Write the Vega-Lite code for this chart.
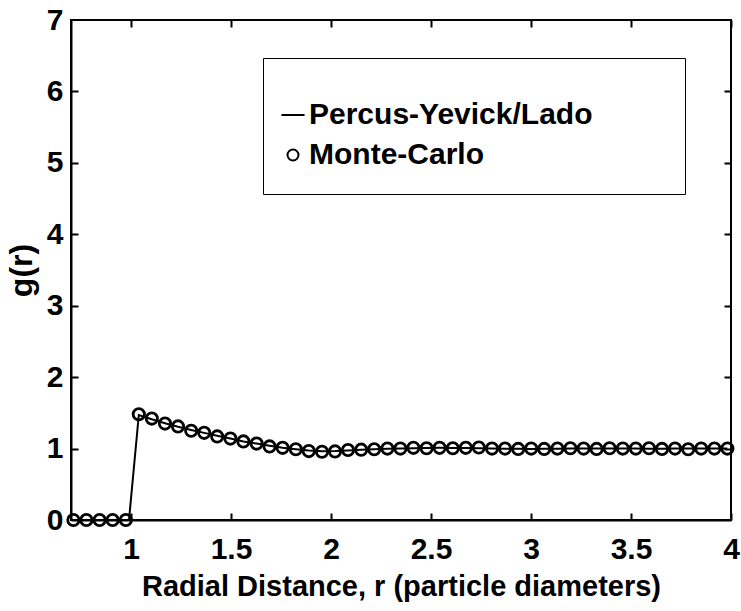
{
  "$schema": "https://vega.github.io/schema/vega-lite/v6.json",
  "width": 660,
  "height": 500,
  "autosize": "none",
  "padding": {"left": 71, "top": 20, "right": 10, "bottom": 91},
  "background": "white",
  "config": {
    "font": "Liberation Sans",
    "view": {"stroke": "black", "strokeWidth": 2},
    "axis": {
      "domainColor": "black",
      "domainWidth": 2,
      "tickColor": "black",
      "tickWidth": 2,
      "tickSize": 7,
      "labelFont": "Liberation Sans",
      "labelFontSize": 30,
      "labelFontWeight": "bold",
      "labelColor": "black",
      "titleFont": "Liberation Sans",
      "titleFontSize": 29,
      "titleFontWeight": "bold",
      "titleColor": "black",
      "grid": false
    },
    "legend": {
      "labelFont": "Liberation Sans",
      "labelFontSize": 30,
      "labelFontWeight": "bold",
      "labelColor": "black",
      "titleFont": "Liberation Sans",
      "titleFontSize": 12,
      "titlePadding": 6,
      "titleLimit": 1000,
      "labelLimit": 1000
    }
  },
  "datasets": {
    "py": [
      {"r": 0.7, "g": 0}, {"r": 0.99, "g": 0},
      {"r": 1.039, "g": 1.47}, {"r": 1.104, "g": 1.41}, {"r": 1.17, "g": 1.355},
      {"r": 1.235, "g": 1.305}, {"r": 1.301, "g": 1.26}, {"r": 1.366, "g": 1.22},
      {"r": 1.431, "g": 1.18}, {"r": 1.497, "g": 1.14}, {"r": 1.562, "g": 1.1},
      {"r": 1.628, "g": 1.07}, {"r": 1.693, "g": 1.04}, {"r": 1.758, "g": 1.01},
      {"r": 1.824, "g": 0.99}, {"r": 1.889, "g": 0.972}, {"r": 1.955, "g": 0.963},
      {"r": 2.02, "g": 0.965}, {"r": 2.085, "g": 0.974}, {"r": 2.151, "g": 0.984},
      {"r": 2.216, "g": 0.991}, {"r": 2.282, "g": 0.997}, {"r": 2.347, "g": 1.002},
      {"r": 2.412, "g": 1.006}, {"r": 2.478, "g": 1.009}, {"r": 2.543, "g": 1.01},
      {"r": 2.609, "g": 1.009}, {"r": 2.674, "g": 1.007}, {"r": 2.739, "g": 1.004},
      {"r": 2.805, "g": 1.001}, {"r": 2.87, "g": 0.998}, {"r": 2.936, "g": 0.996},
      {"r": 3.001, "g": 0.995}, {"r": 3.066, "g": 0.996}, {"r": 3.132, "g": 0.998},
      {"r": 3.197, "g": 1.0}, {"r": 3.263, "g": 1.001}, {"r": 3.328, "g": 1.002},
      {"r": 3.393, "g": 1.002}, {"r": 3.459, "g": 1.001}, {"r": 3.524, "g": 1.0},
      {"r": 3.59, "g": 0.999}, {"r": 3.655, "g": 0.999}, {"r": 3.72, "g": 1.0},
      {"r": 3.786, "g": 1.0}, {"r": 3.851, "g": 1.0}, {"r": 3.917, "g": 1.0},
      {"r": 3.982, "g": 1.0}
    ],
    "mc": [
      {"r": 0.712, "g": 0}, {"r": 0.777, "g": 0}, {"r": 0.843, "g": 0},
      {"r": 0.908, "g": 0}, {"r": 0.974, "g": 0},
      {"r": 1.039, "g": 1.48}, {"r": 1.104, "g": 1.42}, {"r": 1.17, "g": 1.35},
      {"r": 1.235, "g": 1.31}, {"r": 1.301, "g": 1.25}, {"r": 1.366, "g": 1.22},
      {"r": 1.431, "g": 1.17}, {"r": 1.497, "g": 1.14}, {"r": 1.562, "g": 1.1},
      {"r": 1.628, "g": 1.07}, {"r": 1.693, "g": 1.03}, {"r": 1.758, "g": 1.01},
      {"r": 1.824, "g": 0.99}, {"r": 1.889, "g": 0.965}, {"r": 1.955, "g": 0.955},
      {"r": 2.02, "g": 0.96}, {"r": 2.085, "g": 0.98}, {"r": 2.151, "g": 0.985},
      {"r": 2.216, "g": 0.99}, {"r": 2.282, "g": 1.0}, {"r": 2.347, "g": 1.0},
      {"r": 2.412, "g": 1.01}, {"r": 2.478, "g": 1.005}, {"r": 2.543, "g": 1.01},
      {"r": 2.609, "g": 1.005}, {"r": 2.674, "g": 1.01}, {"r": 2.739, "g": 1.015},
      {"r": 2.805, "g": 1.0}, {"r": 2.87, "g": 1.0}, {"r": 2.936, "g": 0.995},
      {"r": 3.001, "g": 1.0}, {"r": 3.066, "g": 0.995}, {"r": 3.132, "g": 1.0},
      {"r": 3.197, "g": 1.005}, {"r": 3.263, "g": 1.0}, {"r": 3.328, "g": 0.995},
      {"r": 3.393, "g": 1.005}, {"r": 3.459, "g": 1.0}, {"r": 3.524, "g": 1.0},
      {"r": 3.59, "g": 1.005}, {"r": 3.655, "g": 0.995}, {"r": 3.72, "g": 1.0},
      {"r": 3.786, "g": 0.99}, {"r": 3.851, "g": 1.0}, {"r": 3.917, "g": 1.0},
      {"r": 3.982, "g": 1.0}
    ]
  },
  "resolve": {"axis": {"x": "independent", "y": "independent"}},
  "layer": [
    {
      "data": {"name": "py"},
      "mark": {"type": "line", "color": "black", "strokeWidth": 2, "clip": false},
      "encoding": {
        "x": {
          "field": "r", "type": "quantitative",
          "scale": {"domain": [0.7, 4], "zero": false, "nice": false},
          "axis": {
            "orient": "bottom",
            "values": [1, 1.5, 2, 2.5, 3, 3.5, 4],
            "format": "~g",
            "ticks": false,
            "tickSize": 0,
            "labelPadding": 14,
            "labelFlush": false,
            "title": "Radial Distance, r (particle diameters)",
            "titlePadding": 8
          }
        },
        "y": {
          "field": "g", "type": "quantitative",
          "scale": {"domain": [0, 7], "nice": false},
          "axis": {
            "orient": "left",
            "values": [0, 1, 2, 3, 4, 5, 6, 7],
            "format": "~g",
            "ticks": false,
            "tickSize": 0,
            "labelPadding": 8,
            "labelFlush": false,
            "title": "g(r)",
            "titleFontSize": 32,
            "titlePadding": 8
          }
        }
      }
    },
    {
      "data": {"name": "mc"},
      "mark": {"type": "point", "filled": false, "color": "black", "strokeWidth": 2.8, "size": 128, "opacity": 1, "clip": false},
      "encoding": {
        "x": {
          "field": "r", "type": "quantitative",
          "scale": {"domain": [0.7, 4], "zero": false, "nice": false},
          "axis": {"orient": "top", "offset": -500, "domain": false, "values": [1, 1.5, 2, 2.5, 3, 3.5, 4], "labels": false, "title": null}
        },
        "y": {
          "field": "g", "type": "quantitative",
          "scale": {"domain": [0, 7], "nice": false},
          "axis": {"orient": "right", "offset": -660, "domain": false, "values": [1, 2, 3, 4, 5, 6], "labels": false, "title": null}
        },
        "shape": {
          "datum": "Monte-Carlo",
          "scale": {
            "domain": ["Percus-Yevick/Lado", "Monte-Carlo"],
            "range": ["M-2.1,0H2.1", "circle"]
          },
          "legend": {
            "orient": "none",
            "legendX": 192,
            "legendY": 38,
            "title": "\u200b\u00a0\u00a0\u00a0\u00a0\u00a0\u00a0\u00a0\u00a0\u00a0\u00a0\u00a0\u00a0\u00a0\u00a0\u00a0\u00a0\u00a0\u00a0\u00a0\u00a0\u00a0\u00a0\u00a0\u00a0\u00a0\u00a0\u00a0\u00a0\u00a0\u00a0\u00a0\u00a0\u00a0\u00a0\u00a0\u00a0\u00a0\u00a0\u00a0\u00a0\u00a0\u00a0\u00a0\u00a0\u00a0\u00a0\u00a0\u00a0\u00a0\u00a0\u00a0\u00a0\u00a0\u00a0\u00a0\u00a0\u00a0\u00a0\u00a0\u00a0\u00a0\u00a0\u00a0\u00a0\u00a0\u00a0\u00a0\u00a0\u00a0\u00a0\u00a0\u00a0\u00a0\u00a0\u00a0\u00a0\u00a0\u00a0\u00a0\u00a0\u00a0\u00a0\u00a0\u00a0\u00a0\u00a0\u00a0\u00a0\u00a0\u00a0\u00a0\u00a0\u00a0\u00a0\u00a0\u00a0\u00a0\u00a0\u00a0\u00a0\u00a0\u00a0\u00a0\u00a0\u00a0\u00a0\u00a0\u00a0\u00a0\u00a0\u00a0\u00a0\u200b",
            "titleLimit": 1000,
            "titleFontSize": 12,
            "titlePadding": 6,
            "strokeColor": "black",
            "padding": 24,
            "symbolSize": 121,
            "symbolStrokeWidth": 2,
            "symbolStrokeColor": "black",
            "symbolFillColor": "transparent",
            "symbolOffset": -9,
            "labelOffset": 1,
            "rowPadding": 10
          }
        }
      }
    },
    {
      "data": {"name": "mc"},
      "mark": {"type": "point", "opacity": 0},
      "encoding": {
        "x": {
          "field": "r", "type": "quantitative",
          "scale": {"domain": [0.7, 4], "zero": false, "nice": false},
          "axis": {"orient": "bottom", "offset": -500, "domain": false, "values": [1, 1.5, 2, 2.5, 3, 3.5, 4], "labels": false, "title": null}
        },
        "y": {
          "field": "g", "type": "quantitative",
          "scale": {"domain": [0, 7], "nice": false},
          "axis": {"orient": "left", "offset": -660, "domain": false, "values": [1, 2, 3, 4, 5, 6], "labels": false, "title": null}
        }
      }
    }
  ]
}
